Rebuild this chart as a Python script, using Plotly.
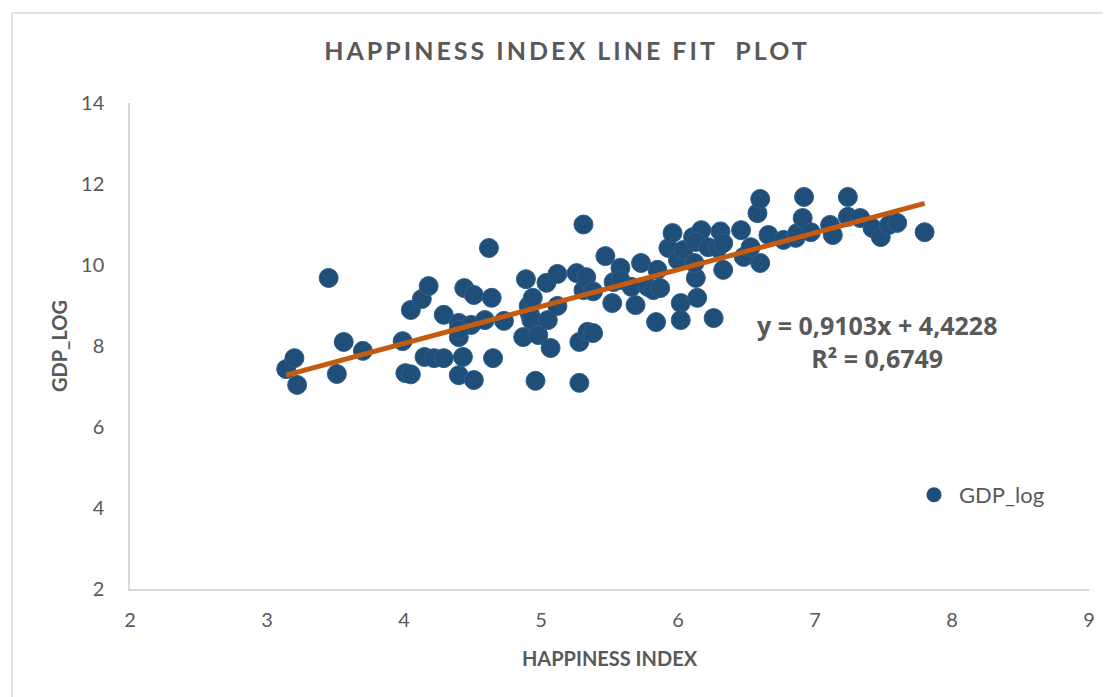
import plotly.graph_objects as go

# happiness index (x) and log GDP (y)
happiness = [
    3.14, 3.20, 3.22, 3.45, 3.51, 3.56, 3.70, 3.99, 4.01, 4.05,
    4.05, 4.13, 4.18, 4.15, 4.22, 4.29, 4.29, 4.40, 4.40, 4.40,
    4.43, 4.44, 4.51, 4.49, 4.59, 4.64, 4.62, 4.65, 4.51, 4.73,
    4.87, 4.89, 4.91, 4.92, 4.93, 4.94, 4.96, 4.98, 5.04, 5.05,
    5.07, 5.12, 5.12, 5.26, 5.28, 5.28, 5.31, 5.31, 5.33, 5.34,
    5.38, 5.47, 5.52, 5.53, 5.58, 5.58, 5.66, 5.69, 5.73, 5.78,
    5.82, 5.84, 5.85, 5.87, 5.93, 5.96, 6.00, 6.02, 6.02, 6.04,
    6.11, 6.13, 6.14, 6.17, 6.13, 6.12, 6.22, 6.26, 6.29, 6.31,
    6.33, 6.33, 6.46, 6.48, 6.53, 6.58, 6.60, 6.60, 6.66, 6.77,
    6.86, 6.87, 6.91, 6.92, 6.97, 7.11, 7.13, 7.24, 7.24, 7.33,
    7.42, 7.48, 7.54, 7.60, 7.80, 5.38, 4.40,
]
gdp_log = [
    7.43, 7.70, 7.04, 9.68, 7.31, 8.10, 7.88, 8.12, 7.33, 7.30,
    8.89, 9.16, 9.48, 7.73, 7.70, 7.70, 8.77, 7.28, 8.22, 8.57,
    7.73, 9.43, 9.26, 8.52, 8.64, 9.19, 10.42, 7.70, 7.16, 8.62,
    8.22, 9.65, 8.99, 8.77, 8.64, 9.19, 7.14, 8.27, 9.56, 8.64,
    7.95, 9.78, 8.99, 9.80, 8.10, 7.09, 11.00, 9.38, 9.70, 8.35,
    8.32, 10.22, 9.06, 9.58, 9.93, 9.63, 9.46, 9.01, 10.05, 9.46,
    9.38, 8.59, 9.88, 9.43, 10.42, 10.79, 10.12, 9.06, 8.64, 10.37,
    10.69, 9.68, 9.19, 10.86, 10.57, 10.05, 10.44, 8.69, 10.42, 10.83,
    9.88, 10.54, 10.86, 10.20, 10.44, 11.28, 11.63, 10.05, 10.74, 10.62,
    10.67, 10.79, 11.16, 11.68, 10.81, 10.99, 10.74, 11.68, 11.19, 11.16,
    10.91, 10.69, 10.99, 11.04, 10.81, 9.35, 8.40,
]

# linear trend shown on the chart
slope = 0.9103
intercept = 4.4228
r_squared = 0.6749

x_ticks = [2, 3, 4, 5, 6, 7, 8, 9]
y_ticks = [2, 4, 6, 8, 10, 12, 14]

# the page body has an 8px margin, so the figure starts at (8, 8) in the window
OFF = 8
W, H = 1111 - OFF, 697 - OFF
L, T = 130 - OFF, 103 - OFF
R = W - (1089 - OFF)
B = H - (589 - OFF)
GRAY = "#595959"
BLUE = "#1F4E79"
ORANGE = "#C55A11"


def px_to_paper_x(px):
    return (px - OFF - L) / (W - L - R)


def px_to_paper_y(py):
    return (H - B - (py - OFF)) / (H - T - B)


def comma(v):
    return f"{v:.4f}".replace(".", ",")


fig = go.Figure()

fig.add_trace(go.Scatter(
    x=happiness, y=gdp_log, mode="markers", showlegend=False,
    marker=dict(size=19, color=BLUE, line=dict(width=1, color="#2E5E8C")),
))

# trend line across the data range
x_fit = [min(happiness), max(happiness)]
y_fit = [slope * v + intercept for v in x_fit]
fig.add_trace(go.Scatter(
    x=x_fit, y=y_fit, mode="lines", showlegend=False,
    line=dict(color=ORANGE, width=5),
))

# legend entry only
fig.add_trace(go.Scatter(
    x=[None], y=[None], mode="markers", name="GDP_log",
    marker=dict(size=15, color=BLUE),
))

eq_text = f"y = {comma(slope)}x + {comma(intercept)}<br>R² = {comma(r_squared)}"

fig.add_annotation(
    x=7.455, y=8.12, xref="x", yref="y", text=eq_text, showarrow=False,
    align="center", font=dict(family="Open Sans", size=25, color=GRAY, weight="bold"),
)

axis_common = dict(
    showgrid=False, zeroline=False, showline=True, linecolor="#D9D9D9",
    linewidth=1.5, ticks="", tickfont=dict(family="Lato", size=20, color=GRAY),
)

fig.update_layout(
    width=W, height=H,
    margin=dict(l=L, r=R, t=T, b=B),
    paper_bgcolor="white", plot_bgcolor="white",
    title=dict(
        text='<span style="letter-spacing:3px">HAPPINESS INDEX LINE FIT  PLOT</span>',
        x=(567 - OFF) / W, xanchor="center", xref="container",
        y=1 - (51 - OFF) / H, yanchor="middle", yref="container",
        font=dict(family="Lato", size=25, color=GRAY, weight="bold"),
    ),
    xaxis=dict(
        range=[2, 9], tickvals=x_ticks, ticklabelstandoff=12,
        title=dict(text="HAPPINESS INDEX", standoff=22,
                   font=dict(family="Lato", size=20, color=GRAY, weight="bold")),
        **axis_common,
    ),
    yaxis=dict(
        range=[2, 14], tickvals=y_ticks, ticklabelstandoff=20,
        title=dict(text="GDP_LOG", standoff=8,
                   font=dict(family="Lato", size=20, color=GRAY, weight="bold")),
        **axis_common,
    ),
    legend=dict(
        x=px_to_paper_x(909), y=px_to_paper_y(495), xanchor="left", yanchor="middle",
        itemwidth=40,
        font=dict(family="Lato", size=22, color=GRAY), bgcolor="rgba(0,0,0,0)",
    ),
    shapes=[dict(
        type="rect", xref="paper", yref="paper",
        x0=px_to_paper_x(12), x1=px_to_paper_x(1111 + 10),
        y0=px_to_paper_y(710), y1=px_to_paper_y(13),
        line=dict(color="#D9D9D9", width=1.5), fillcolor="rgba(0,0,0,0)",
        layer="below",
    )],
)

fig.write_html("out.html")
